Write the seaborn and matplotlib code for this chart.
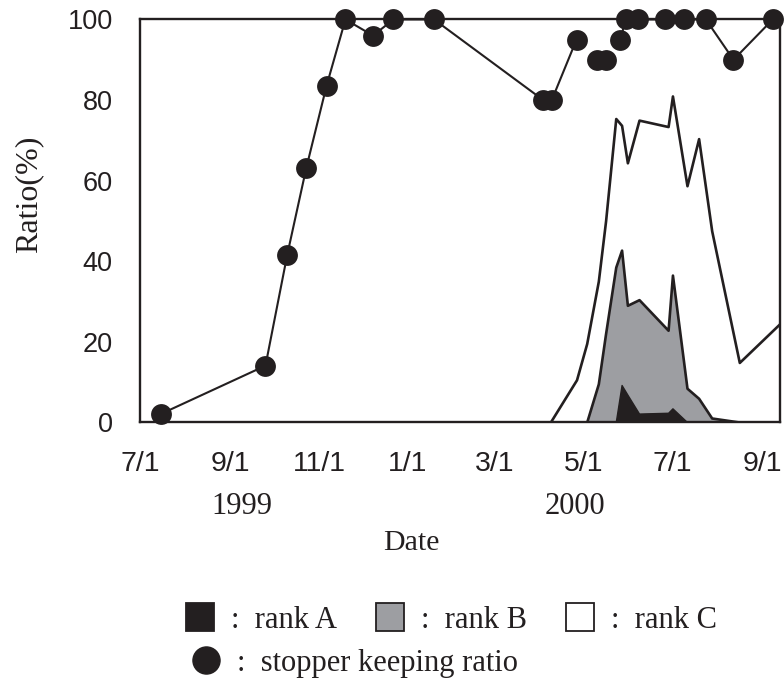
import matplotlib
matplotlib.use("Agg")
import matplotlib.pyplot as plt
from matplotlib.lines import Line2D
import pandas as pd
import seaborn as sns

# Stopper keeping ratio per survey (%) and the run of linked surveys it belongs to
stopper_dates = ["1999-07-15", "1999-09-25", "1999-10-10", "1999-10-23", "1999-11-06",
                 "1999-11-19", "1999-12-08", "1999-12-22", "2000-01-19", "2000-04-03",
                 "2000-04-09", "2000-04-26", "2000-05-10", "2000-05-16", "2000-05-26",
                 "2000-05-30", "2000-06-07", "2000-06-26", "2000-07-09", "2000-07-24",
                 "2000-08-12", "2000-09-08"]
stopper_ratio = [2, 14, 41.6, 63, 83.5, 100, 96, 100, 100, 80,
                 80, 95, 90, 90, 95, 100, 100, 100, 100, 100,
                 90, 100]
stopper_run = [1, 1, 1, 1, 1, 1, 1, 1, 1, 1, 1, 1,
               2, 2,
               3, 3, 3, 3, 3, 3, 3, 3]

# Share of each damage rank (%), stacked A -> B -> C
area_dates = ["2000-04-08", "2000-04-26", "2000-05-03", "2000-05-11", "2000-05-16",
              "2000-05-23", "2000-05-27", "2000-05-31", "2000-06-08", "2000-06-28",
              "2000-07-01", "2000-07-11", "2000-07-19", "2000-07-28", "2000-08-16",
              "2000-09-13"]
rank_a = [0, 0, 0, 0, 0, 0, 9.2, 6.8, 2.1, 2.3, 3.4, 0, 0, 0, 0, 0]
rank_b = [0, 0, 0, 9.5, 22, 38.5, 33.5, 22.2, 28.3, 20.5, 33.1, 8.4, 5.9, 1.0, 0, 0]
rank_c = [0, 10.5, 19.5, 25.5, 28, 36.9, 31.0, 35.4, 44.6, 50.6, 44.5, 50.3, 64.5, 46.5, 14.8, 24.5]

tick_dates = ["1999-07-01", "1999-09-01", "1999-11-01", "2000-01-01",
              "2000-03-01", "2000-05-01", "2000-07-01", "2000-09-01"]
tick_labels = ["7/1", "9/1", "11/1", "1/1", "3/1", "5/1", "7/1", "9/1"]
year_labels = ["1999", "2000"]

sns.set_theme(style="white")
plt.rcParams["font.family"] = ["Liberation Serif", "DejaVu Serif"]

INK = "#231f20"
GRAY = "#9d9ea2"

fig = plt.figure(figsize=(7.84, 6.86), dpi=100)
ax = fig.add_axes([0.1792, 0.3848, 0.8157, 0.5868])

stop = pd.DataFrame({"date": pd.to_datetime(stopper_dates),
                     "ratio": stopper_ratio, "run": stopper_run})
area = pd.DataFrame({"date": pd.to_datetime(area_dates),
                     "A": rank_a, "B": rank_b, "C": rank_c})
area["AB"] = area["A"] + area["B"]
area["ABC"] = area["AB"] + area["C"]

# stacked rank areas
ax.fill_between(area["date"], 0, area["ABC"], facecolor="white",
                edgecolor=INK, linewidth=1.9, zorder=1)
ax.fill_between(area["date"], 0, area["AB"], facecolor=GRAY,
                edgecolor=INK, linewidth=1.9, zorder=1.1)
ax.fill_between(area["date"], 0, area["A"], facecolor=INK,
                edgecolor=INK, linewidth=1.0, zorder=1.2)

# stopper keeping ratio
sns.lineplot(data=stop, x="date", y="ratio", units="run", estimator=None,
             color=INK, linewidth=1.5, ax=ax, zorder=2)
sns.scatterplot(data=stop, x="date", y="ratio", color=INK, s=225,
                edgecolor=INK, linewidth=0, ax=ax, zorder=3, clip_on=False)

ax.set_xlim(pd.Timestamp("1999-07-01"), pd.Timestamp("2000-09-13"))
ax.set_ylim(0, 100)
ax.set_xticks(pd.to_datetime(tick_dates))
ax.set_xticklabels(tick_labels, family=["Liberation Sans", "DejaVu Sans"], fontsize=20.5)
ax.set_yticks([0, 20, 40, 60, 80, 100])
ax.set_yticklabels(["0", "20", "40", "60", "80", "100"],
                   family=["Liberation Sans", "DejaVu Sans"], fontsize=19.5)
ax.tick_params(axis="both", direction="in", length=7, width=1.5, color=INK,
               labelcolor=INK)
ax.tick_params(axis="x", pad=21)
ax.tick_params(axis="y", pad=20)
ax.set_xlabel("")
ax.set_ylabel("")
for sp in ax.spines.values():
    sp.set_visible(True)
    sp.set_color(INK)
    sp.set_linewidth(1.7)
ax.grid(False)

W, H = 784, 686
fig.text(242 / W, 1 - 506 / H, year_labels[0], ha="center", va="center",
         fontsize=22, color=INK)
fig.text(575 / W, 1 - 506 / H, year_labels[1], ha="center", va="center",
         fontsize=22, color=INK)
fig.text(411 / W, 1 - 543 / H, "Date", ha="center", va="center",
         fontsize=21.5, color=INK)
fig.text(29 / W, 1 - 194 / H, "Ratio(%)", ha="center", va="center",
         rotation=90, fontsize=23, color=INK)

sq = dict(marker="s", markersize=20.5, markeredgecolor=INK,
          markeredgewidth=1.3, linestyle="none")
rank_handles = [Line2D([], [], markerfacecolor=INK, **sq),
                Line2D([], [], markerfacecolor=GRAY, **sq),
                Line2D([], [], markerfacecolor="white", **sq)]
rank_names = [":  rank A", ":  rank B", ":  rank C"]
leg_kw = dict(frameon=False, loc="center left", borderpad=0, borderaxespad=0,
              handlelength=1.0, handletextpad=0.5, fontsize=22,
              labelcolor=INK)
fig.legend(rank_handles, rank_names, ncol=3, columnspacing=1.25,
           bbox_to_anchor=(185 / W, 1 - 620 / H), **leg_kw)
dot = Line2D([], [], marker="o", markersize=19.5, markerfacecolor=INK,
             markeredgecolor=INK, linestyle="none")
fig.legend([dot], [":  stopper keeping ratio"],
           bbox_to_anchor=(191 / W, 1 - 663 / H), **leg_kw)

fig.savefig("out.png", dpi=100, facecolor="white")
